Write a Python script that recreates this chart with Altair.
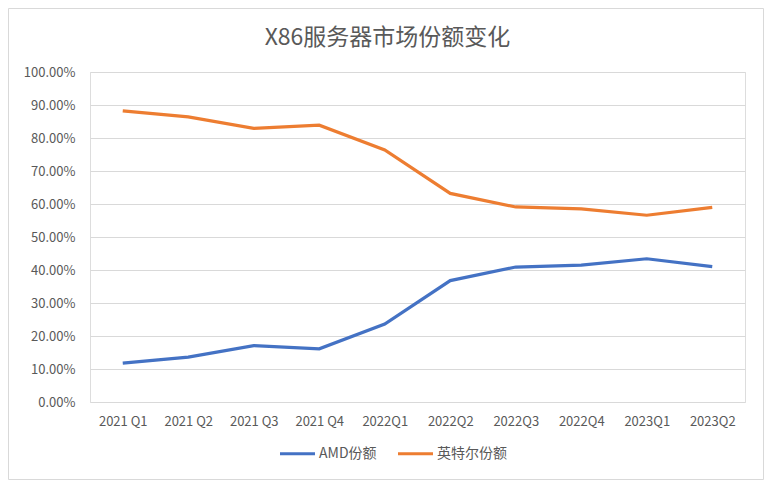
import altair as alt
import pandas as pd

quarters = ["2021 Q1", "2021 Q2", "2021 Q3", "2021 Q4", "2022Q1",
            "2022Q2", "2022Q3", "2022Q4", "2023Q1", "2023Q2"]
amd = [0.118, 0.136, 0.171, 0.161, 0.236, 0.368, 0.409, 0.415, 0.434, 0.410]
intel = [0.882, 0.864, 0.829, 0.839, 0.764, 0.632, 0.591, 0.585, 0.566, 0.590]
series = ["AMD份额", "英特尔份额"]
colors = ["#4472C4", "#ED7D31"]
title_text = ["X86服务器市场份额变化"]

rows = []
for q, a, i in zip(quarters, amd, intel):
    rows.append({"季度": q, "系列": series[0], "份额": a})
    rows.append({"季度": q, "系列": series[1], "份额": i})
df = pd.DataFrame(rows)

FONT = "Noto Sans CJK SC"
W, H = 655, 330

lines = alt.Chart(df).mark_line(strokeWidth=3.2).encode(
    x=alt.X("季度:N", sort=quarters, title=None,
            scale=alt.Scale(type="point", padding=0.5),
            axis=alt.Axis(labelAngle=0, ticks=False, domain=False, grid=False,
                          labelPadding=13, labelFontSize=13,
                          labelColor="#595959", labelFont=FONT)),
    y=alt.Y("份额:Q", title=None,
            scale=alt.Scale(domain=[0, 1]),
            axis=alt.Axis(format=".2%", values=[i / 10 for i in range(11)],
                          ticks=False, domain=False, gridColor="#d9d9d9",
                          labelPadding=15, labelFontSize=13,
                          labelColor="#595959", labelFont=FONT)),
    color=alt.Color("系列:N", sort=series,
                    scale=alt.Scale(domain=series, range=colors),
                    legend=alt.Legend(title=None, orient="none", direction="horizontal",
                                      legendX=188, legendY=362,
                                      symbolType="stroke", symbolSize=1225,
                                      symbolStrokeWidth=3.2, labelFontSize=14,
                                      labelColor="#595959", labelFont=FONT,
                                      labelOffset=2, columnPadding=14)),
)

border = alt.Chart(pd.DataFrame({"b": [0]})).mark_rect(
    fill=None, stroke="#d9d9d9", strokeWidth=1, clip=False
).encode(
    x=alt.value(-81.5), x2=alt.value(W + 18.5),
    y=alt.value(-63.5), y2=alt.value(H + 77.5),
)

title = alt.Chart(pd.DataFrame({"t": title_text})).mark_text(
    font=FONT, fontSize=23, fontWeight="normal", color="#595959",
    align="center", baseline="middle", clip=False
).encode(
    text="t:N",
    x=alt.value(W / 2 - 30), y=alt.value(-34),
)

chart = alt.layer(border, lines, title).properties(
    width=W, height=H,
    autosize=alt.AutoSizeParams(type="none"),
    padding={"left": 82, "top": 64, "right": 19, "bottom": 78},
).configure_view(stroke=None).configure(background="white")

chart.save("out.html", embed_options={"renderer": "svg", "actions": False})
